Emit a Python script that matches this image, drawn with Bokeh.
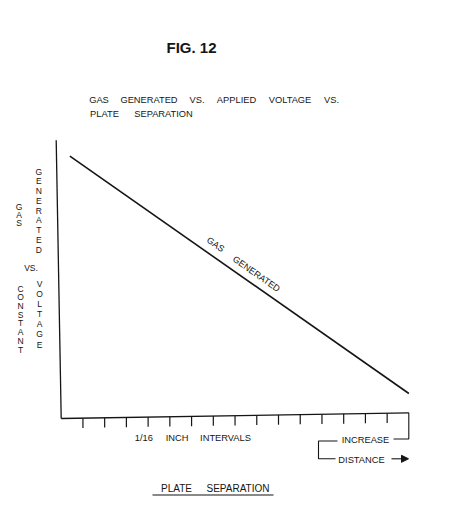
from bokeh.plotting import figure
from bokeh.models import Range1d
from bokeh.core.properties import value
from bokeh.embed import file_html
from bokeh.resources import INLINE

# ---- data (x in 1/16-inch plate-separation intervals, y in relative units) ----
tick_intervals = [1, 2, 3, 4, 5, 6, 7, 8, 9, 10, 11, 12, 13, 14, 15]
axis_end_interval = 16
gas_x = [0.4, 16.0]
gas_y = [12.07, 1.15]
y_axis_top = 12.8

# ---- layout helpers ----
W, H = 462, 524
PAD = 0               # page offset of the figure
U = 21.73             # pixels per interval
OX, OY = 60.7, 418.0  # axis origin in page pixels
FONT = value("Liberation Sans")
INK = "#151515"


def at(X, Y):
    return (X - OX) / U, (OY - Y) / U


p = figure(width=W, height=H, output_backend="svg", toolbar_location=None,
           x_range=Range1d((PAD - OX) / U, (PAD + W - OX) / U),
           y_range=Range1d((OY - PAD - H) / U, (OY - PAD) / U),
           x_axis_type=None, y_axis_type=None, min_border=0)
p.grid.visible = False
p.outline_line_color = None
p.background_fill_color = "white"
p.border_fill_color = "white"

# hand-drawn axes (slightly skewed like the original drawing)
tilt = 0.262 / axis_end_interval
p.line([0, axis_end_interval], [0, axis_end_interval * tilt], line_color=INK, line_width=1.3)
p.line([0, -0.23], [0, y_axis_top], line_color=INK, line_width=1.3)

tick_top = [t * tilt for t in tick_intervals]
tick_bot = [t * tilt - 0.45 for t in tick_intervals]
p.segment(x0=tick_intervals, y0=tick_top, x1=tick_intervals, y1=tick_bot,
          line_color=INK, line_width=1.2)

# data line
p.line(gas_x, gas_y, line_color=INK, line_width=1.6)


def txt(X, Y, s, size=9.5, align="center", angle=0.0, style="normal"):
    x, y = at(X, Y)
    p.text(x=[x], y=[y], text=[s], text_font=FONT, text_font_size=f"{size}px",
           text_align=align, text_baseline="middle", text_color=INK, angle=angle,
           text_font_style=style)


# title
txt(191, 47, "FIG. 12", size=15, style="bold")

# subtitle words
for s, xl, xr in [("GAS", 89, 108), ("GENERATED", 120, 177), ("VS.", 188, 205),
                  ("APPLIED", 215, 257), ("VOLTAGE", 267, 312), ("VS.", 323, 339)]:
    txt((xl + xr) / 2, 99, s, size=9.3)
for s, xl, xr in [("PLATE", 89, 119), ("SEPARATION", 133, 193)]:
    txt((xl + xr) / 2, 113, s, size=9.3)


# vertical stacked letters of y label
def stack(X, Y0, Y1, word, size=8.5):
    n = len(word)
    for i, ch in enumerate(word):
        Y = Y0 + (Y1 - Y0) * i / (n - 1)
        txt(X, Y, ch, size=size)


stack(18.5, 206, 222, "GAS")
stack(38.3, 171, 249, "GENERATED")
txt(30.5, 267, "VS.", size=8.5)
stack(20, 288, 349, "CONSTANT")
stack(39, 283, 344, "VOLTAGE")

# label along the line
ang = -0.611
txt(215, 244, "GAS", size=9, angle=ang)
txt(256, 273.5, "GENERATED", size=9, angle=ang)

# x labels
for s, xl, xr in [("1/16", 132.7, 154), ("INCH", 165, 188), ("INTERVALS", 198, 252)]:
    txt((xl + xr) / 2, 437, s, size=9.3)

txt(365, 439.5, "INCREASE", size=9.3)
txt(361, 459, "DISTANCE", size=9.3)

# bracket decorations
bx0, by0 = at(408.3, 412.3)
bx1, by1 = at(408.3, 438.5)
bx2, _ = at(393, 438.5)
p.line([bx0, bx1, bx2], [by0, by1, by1], line_color=INK, line_width=1.1)
lx0, ly0 = at(337, 440.5)
lx1, ly1 = at(318, 440.5)
lx2, ly2 = at(318, 458.3)
lx3, _ = at(335, 458.3)
p.line([lx0, lx1, lx2, lx3], [ly0, ly1, ly2, ly2], line_color=INK, line_width=1.1)
ax0, ay = at(391, 458.3)
ax1, _ = at(401, 458.3)
ax2, _ = at(408, 458.3)
_, ayu = at(0, 454.8)
_, ayd = at(0, 461.8)
p.line([ax0, ax1], [ay, ay], line_color=INK, line_width=1.1)
p.patch([ax1, ax2, ax1], [ayu, ay, ayd], color=INK)

# bottom label with underline
txt(176, 488.3, "PLATE", size=10)
txt(237.5, 488.3, "SEPARATION", size=10)
ux0, uy = at(152, 494.5)
ux1, _ = at(273, 494.5)
p.line([ux0, ux1], [uy, uy], line_color=INK, line_width=1.2)

open("out.html", "w").write(file_html(p, INLINE))
